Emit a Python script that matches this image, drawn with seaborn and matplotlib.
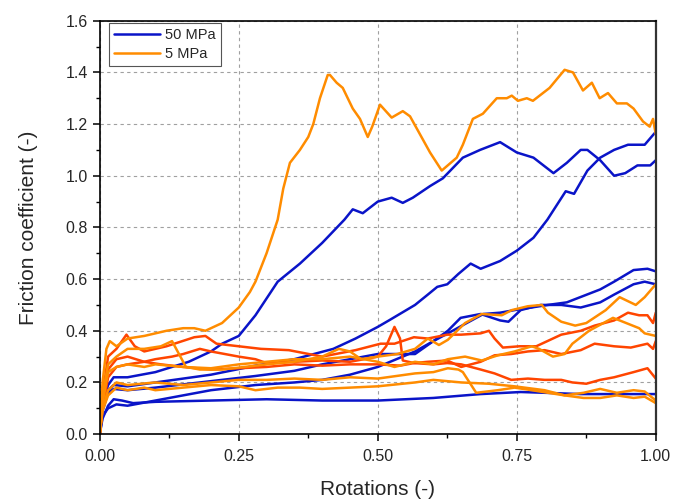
import numpy as np
import pandas as pd
import matplotlib
matplotlib.use("Agg")
import matplotlib.pyplot as plt
from matplotlib.lines import Line2D
from matplotlib.ticker import MultipleLocator, FormatStrFormatter
import seaborn as sns

# ---- 50 MPa runs (blue) ----
b1_x = [0, 0.005, 0.015, 0.025, 0.05, 0.1, 0.16, 0.2, 0.22, 0.25, 0.28, 0.32, 0.36, 0.40, 0.44,
        0.455, 0.473, 0.50, 0.525, 0.545, 0.563, 0.594, 0.617, 0.653, 0.684, 0.72, 0.75, 0.78,
        0.816, 0.84, 0.865, 0.877, 0.9, 0.925, 0.945, 0.967, 0.99, 1.0]
b1_y = [0, 0.12, 0.19, 0.22, 0.22, 0.24, 0.28, 0.32, 0.35, 0.38, 0.46, 0.59, 0.66, 0.74, 0.83,
        0.87, 0.855, 0.90, 0.915, 0.895, 0.915, 0.96, 0.99, 1.07, 1.10, 1.13, 1.09, 1.07,
        1.01, 1.05, 1.10, 1.10, 1.06, 1.00, 1.01, 1.04, 1.04, 1.06]

b2_x = [0, 0.005, 0.015, 0.025, 0.05, 0.1, 0.2, 0.28, 0.35, 0.42, 0.46, 0.5, 0.52, 0.567, 0.59,
        0.607, 0.625, 0.645, 0.667, 0.685, 0.72, 0.75, 0.78, 0.805, 0.838, 0.853, 0.877, 0.9,
        0.925, 0.95, 0.98, 1.0]
b2_y = [0, 0.10, 0.17, 0.19, 0.185, 0.20, 0.23, 0.265, 0.29, 0.33, 0.37, 0.415, 0.44, 0.50, 0.54,
        0.57, 0.58, 0.62, 0.66, 0.64, 0.67, 0.71, 0.76, 0.83, 0.94, 0.93, 1.02, 1.07,
        1.10, 1.12, 1.12, 1.17]

b3_x = [0, 0.005, 0.015, 0.025, 0.05, 0.1, 0.2, 0.28, 0.35, 0.4, 0.45, 0.5, 0.567, 0.6, 0.626,
        0.649, 0.685, 0.72, 0.735, 0.757, 0.793, 0.83, 0.865, 0.9, 0.925, 0.96, 0.98, 1.0]
b3_y = [0, 0.09, 0.16, 0.175, 0.17, 0.18, 0.205, 0.225, 0.245, 0.27, 0.29, 0.31, 0.31, 0.36, 0.40,
        0.45, 0.465, 0.44, 0.435, 0.48, 0.50, 0.50, 0.49, 0.51, 0.54, 0.58, 0.59, 0.58]

b4_x = [0, 0.005, 0.015, 0.03, 0.05, 0.1, 0.15, 0.2, 0.28, 0.35, 0.4, 0.45, 0.5, 0.567, 0.6,
        0.626, 0.66, 0.69, 0.72, 0.746, 0.806, 0.84, 0.87, 0.9, 0.925, 0.96, 0.985, 1.0]
b4_y = [0, 0.07, 0.10, 0.115, 0.11, 0.13, 0.15, 0.17, 0.19, 0.20, 0.21, 0.23, 0.26, 0.32, 0.36,
        0.39, 0.43, 0.465, 0.47, 0.48, 0.50, 0.51, 0.535, 0.56, 0.59, 0.635, 0.64, 0.63]

b5_x = [0, 0.005, 0.015, 0.025, 0.04, 0.06, 0.1, 0.2, 0.3, 0.4, 0.5, 0.6, 0.685, 0.757, 0.8,
        0.865, 0.95, 1.0]
b5_y = [0, 0.06, 0.11, 0.135, 0.13, 0.12, 0.125, 0.13, 0.135, 0.13, 0.13, 0.14, 0.155, 0.163, 0.16,
        0.155, 0.155, 0.155]

# ---- 5 MPa runs (orange / red-orange) ----
o1_x = [0, 0.005, 0.012, 0.018, 0.03, 0.05, 0.08, 0.12, 0.15, 0.17, 0.19, 0.22, 0.25, 0.27, 0.28,
        0.30, 0.32, 0.33, 0.342, 0.36, 0.375, 0.384, 0.396, 0.41, 0.414, 0.426, 0.437, 0.455,
        0.468, 0.482, 0.49, 0.504, 0.525, 0.545, 0.558, 0.576, 0.594, 0.615, 0.642, 0.653,
        0.671, 0.689, 0.714, 0.732, 0.741, 0.752, 0.768, 0.779, 0.809, 0.836, 0.851, 0.869,
        0.885, 0.899, 0.914, 0.93, 0.948, 0.96, 0.977, 0.989, 0.995, 1.0]
o1_y = [0, 0.20, 0.33, 0.36, 0.34, 0.37, 0.38, 0.40, 0.41, 0.41, 0.40, 0.43, 0.49, 0.55, 0.59,
        0.70, 0.83, 0.95, 1.05, 1.10, 1.15, 1.20, 1.30, 1.39, 1.39, 1.36, 1.34, 1.26,
        1.22, 1.15, 1.19, 1.275, 1.225, 1.25, 1.23, 1.16, 1.09, 1.02, 1.07, 1.12,
        1.22, 1.24, 1.30, 1.30, 1.31, 1.29, 1.30, 1.29, 1.34, 1.41, 1.40, 1.33,
        1.36, 1.30, 1.32, 1.28, 1.28, 1.26, 1.21, 1.19, 1.22, 1.16]

o2_x = [0, 0.005, 0.015, 0.03, 0.05, 0.08, 0.11, 0.13, 0.14, 0.155, 0.18, 0.22, 0.26, 0.3, 0.35,
        0.4, 0.43, 0.45, 0.47, 0.5, 0.535, 0.567, 0.59, 0.61, 0.626, 0.657, 0.687, 0.723, 0.741,
        0.77, 0.795, 0.806, 0.83, 0.855, 0.875, 0.91, 0.935, 0.964, 0.98, 1.0]
o2_y = [0, 0.15, 0.27, 0.30, 0.33, 0.33, 0.34, 0.36, 0.32, 0.26, 0.25, 0.25, 0.26, 0.27, 0.28,
        0.30, 0.33, 0.32, 0.29, 0.30, 0.31, 0.33, 0.37, 0.345, 0.365, 0.43, 0.465, 0.46, 0.48,
        0.495, 0.50, 0.47, 0.435, 0.42, 0.43, 0.48, 0.53, 0.50, 0.53, 0.58]

o3_x = [0, 0.005, 0.015, 0.03, 0.05, 0.08, 0.1, 0.15, 0.2, 0.25, 0.3, 0.35, 0.4, 0.45, 0.5, 0.53,
        0.567, 0.6, 0.626, 0.657, 0.687, 0.716, 0.746, 0.777, 0.79, 0.815, 0.836, 0.85, 0.88,
        0.923, 0.935, 0.97, 0.98, 1.0]
o3_y = [0, 0.12, 0.24, 0.26, 0.27, 0.26, 0.27, 0.26, 0.255, 0.27, 0.28, 0.29, 0.29, 0.30, 0.28, 0.26,
        0.28, 0.27, 0.29, 0.30, 0.285, 0.305, 0.32, 0.34, 0.33, 0.30, 0.31, 0.35, 0.40,
        0.45, 0.44, 0.41, 0.39, 0.38]

o4_x = [0, 0.005, 0.015, 0.03, 0.05, 0.1, 0.15, 0.2, 0.25, 0.3, 0.35, 0.4, 0.45, 0.5, 0.567, 0.6,
        0.626, 0.645, 0.653, 0.665, 0.677, 0.716, 0.746, 0.777, 0.806, 0.836, 0.87, 0.9, 0.93,
        0.96, 0.98, 1.0]
o4_y = [0, 0.10, 0.17, 0.20, 0.19, 0.20, 0.19, 0.20, 0.21, 0.21, 0.215, 0.21, 0.22, 0.215, 0.235, 0.24,
        0.255, 0.25, 0.24, 0.20, 0.16, 0.17, 0.18, 0.17, 0.16, 0.15, 0.16, 0.175, 0.16,
        0.17, 0.165, 0.13]

o5_x = [0, 0.005, 0.015, 0.03, 0.05, 0.08, 0.1, 0.15, 0.2, 0.25, 0.28, 0.32, 0.36, 0.4, 0.45, 0.5,
        0.567, 0.6, 0.65, 0.7, 0.746, 0.8, 0.836, 0.87, 0.9, 0.93, 0.96, 0.98, 1.0]
o5_y = [0, 0.09, 0.15, 0.18, 0.17, 0.18, 0.17, 0.18, 0.19, 0.185, 0.17, 0.18, 0.18, 0.175, 0.18, 0.185,
        0.20, 0.21, 0.20, 0.195, 0.185, 0.17, 0.15, 0.14, 0.14, 0.15, 0.14, 0.145, 0.12]

r1_x = [0, 0.005, 0.015, 0.03, 0.048, 0.063, 0.08, 0.12, 0.17, 0.19, 0.21, 0.25, 0.29, 0.34, 0.40,
        0.46, 0.505, 0.53, 0.565, 0.59, 0.625, 0.65, 0.685, 0.70, 0.71, 0.725, 0.755, 0.785, 0.80,
        0.83, 0.865, 0.89, 0.925, 0.95, 0.97, 0.985, 0.995, 1.0]
r1_y = [0, 0.15, 0.30, 0.33, 0.385, 0.34, 0.32, 0.34, 0.375, 0.38, 0.35, 0.34, 0.33, 0.325, 0.30,
        0.325, 0.35, 0.35, 0.375, 0.37, 0.385, 0.385, 0.39, 0.40, 0.37, 0.335, 0.34, 0.34, 0.355,
        0.385, 0.40, 0.42, 0.44, 0.47, 0.46, 0.46, 0.43, 0.47]

r2_x = [0, 0.005, 0.015, 0.03, 0.05, 0.08, 0.1, 0.13, 0.15, 0.18, 0.2, 0.25, 0.28, 0.3, 0.35, 0.4,
        0.45, 0.5, 0.515, 0.53, 0.54, 0.545, 0.565, 0.59, 0.625, 0.65, 0.685, 0.71, 0.74, 0.77,
        0.80, 0.83, 0.865, 0.89, 0.925, 0.955, 0.985, 0.995, 1.0]
r2_y = [0, 0.12, 0.25, 0.29, 0.30, 0.28, 0.29, 0.30, 0.31, 0.33, 0.32, 0.30, 0.29, 0.275, 0.28, 0.285,
        0.28, 0.30, 0.34, 0.415, 0.37, 0.285, 0.275, 0.28, 0.285, 0.26, 0.28, 0.305, 0.31, 0.32,
        0.325, 0.31, 0.325, 0.35, 0.34, 0.335, 0.35, 0.33, 0.36]

r3_x = [0, 0.005, 0.015, 0.03, 0.05, 0.08, 0.11, 0.15, 0.2, 0.25, 0.3, 0.35, 0.4, 0.45, 0.5, 0.54,
        0.565, 0.6, 0.625, 0.65, 0.685, 0.71, 0.74, 0.77, 0.80, 0.83, 0.85, 0.875, 0.9, 0.925,
        0.96, 0.985, 1.0]
r3_y = [0, 0.10, 0.22, 0.26, 0.27, 0.28, 0.27, 0.26, 0.25, 0.255, 0.26, 0.27, 0.265, 0.27, 0.27, 0.265,
        0.275, 0.27, 0.275, 0.27, 0.25, 0.235, 0.21, 0.215, 0.21, 0.21, 0.20, 0.195, 0.21, 0.22,
        0.24, 0.255, 0.215]

BLUE = "#0A14C8"
ORANGE = "#FF8C00"
RED = "#FF4500"

runs = [
    ("b1", b1_x, b1_y, "blue"), ("b2", b2_x, b2_y, "blue"), ("b3", b3_x, b3_y, "blue"),
    ("b4", b4_x, b4_y, "blue"), ("b5", b5_x, b5_y, "blue"),
    ("r1", r1_x, r1_y, "red"), ("r2", r2_x, r2_y, "red"), ("r3", r3_x, r3_y, "red"),
    ("o2", o2_x, o2_y, "orange"), ("o3", o3_x, o3_y, "orange"), ("o4", o4_x, o4_y, "orange"),
    ("o5", o5_x, o5_y, "orange"), ("o1", o1_x, o1_y, "orange"),
]

frames = []
for name, xs, ys, shade in runs:
    frames.append(pd.DataFrame({"rot": xs, "mu": ys, "run": name, "shade": shade}))
df = pd.concat(frames, ignore_index=True)

sns.set_style("ticks")
plt.rcParams["font.family"] = ["Liberation Sans", "DejaVu Sans"]

fig = plt.figure(figsize=(6.74, 4.99), dpi=100)
ax = fig.add_axes([0.148, 0.130, 0.825, 0.8285])

ax.grid(True, which="major", ls=(0, (3, 3)), color="#A0A0A0", lw=0.8)
ax.set_axisbelow(True)

# smooth-looking joins for the measured traces
sns.lineplot(data=df, x="rot", y="mu", hue="shade", units="run", estimator=None, sort=False,
             palette={"blue": BLUE, "red": RED, "orange": ORANGE},
             hue_order=["blue", "red", "orange"], lw=1.8, legend=False, ax=ax,
             solid_joinstyle="round", solid_capstyle="round")

ax.set_xlim(0, 1.0)
ax.set_ylim(0, 1.6)
ax.xaxis.set_major_locator(MultipleLocator(0.25))
ax.xaxis.set_minor_locator(MultipleLocator(0.125))
ax.yaxis.set_major_locator(MultipleLocator(0.2))
ax.yaxis.set_minor_locator(MultipleLocator(0.1))
ax.xaxis.set_major_formatter(FormatStrFormatter("%.2f"))
ax.yaxis.set_major_formatter(FormatStrFormatter("%.1f"))
ax.tick_params(which="major", direction="out", length=5, width=1.1, labelsize=11.5, color="black")
ax.tick_params(which="minor", direction="out", length=3, width=1.0, color="black")
ax.tick_params(axis="x", pad=6)
for s in ax.spines.values():
    s.set_color("black")
    s.set_linewidth(1.2)
ax.spines["right"].set_linewidth(1.6)
ax.spines["right"].set_color("#333333")

ax.set_xlabel("Rotations (-)", fontsize=15, labelpad=11)
ax.set_ylabel("Friction coefficient (-)", fontsize=15, labelpad=20)

handles = [Line2D([], [], color=BLUE, lw=1.8), Line2D([], [], color=ORANGE, lw=1.8)]
leg = ax.legend(handles, ["50 MPa", "5 MPa"], loc="upper left", bbox_to_anchor=(0.016, 0.994),
                borderaxespad=0, fontsize=10.5, frameon=True, fancybox=False, framealpha=1,
                edgecolor="#555555", handlelength=3.2, handletextpad=0.3, labelspacing=0.3,
                borderpad=0.35)
leg.get_frame().set_linewidth(0.8)

fig.savefig("out.png", dpi=100)
